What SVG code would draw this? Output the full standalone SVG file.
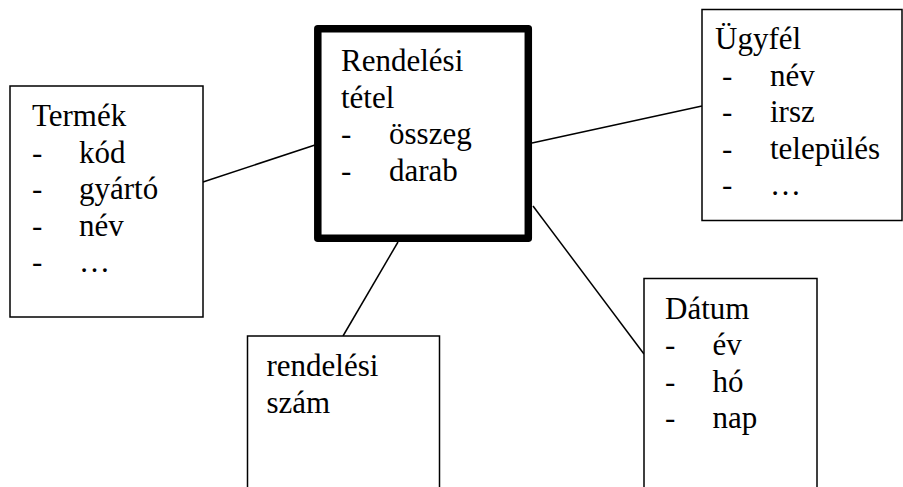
<svg xmlns="http://www.w3.org/2000/svg" width="903" height="487" viewBox="0 0 903 487" font-family="serif">
<style>
.box{fill:#fff;stroke:#000;stroke-width:1.5}
.main{fill:#fff;stroke:#000;stroke-width:7.5;stroke-linejoin:round}
.c line{stroke:#000;stroke-width:1.5}
</style>
<rect width="903" height="487" fill="#fff"/>
<g class="c" id="connectors">
<line x1="203" y1="182" x2="315" y2="145"/>
<line x1="532" y1="143" x2="702" y2="106"/>
<line x1="398" y1="242" x2="343" y2="336"/>
<line x1="533" y1="206" x2="644" y2="354"/>
</g>
<g id="termek">
<rect class="box" x="10" y="86" width="193" height="231"/>
<text font-family="serif" font-size="31" x="32" y="126">Termék</text>
<text font-family="serif" font-size="31" y="162.5"><tspan x="32">-</tspan><tspan x="79">kód</tspan></text>
<text font-family="serif" font-size="31" y="199"><tspan x="32">-</tspan><tspan x="79">gyártó</tspan></text>
<text font-family="serif" font-size="31" y="235.5"><tspan x="32">-</tspan><tspan x="79">név</tspan></text>
<text font-family="serif" font-size="31" y="272"><tspan x="32">-</tspan><tspan x="79">…</tspan></text>
</g>
<g id="rendelesi-tetel">
<rect class="main" x="317.8" y="28.8" width="210.5" height="209.5"/>
<text font-family="serif" font-size="31" x="341" y="71">Rendelési</text>
<text font-family="serif" font-size="31" x="341" y="107.5">tétel</text>
<text font-family="serif" font-size="31" y="144"><tspan x="341">-</tspan><tspan x="389">összeg</tspan></text>
<text font-family="serif" font-size="31" y="180.5"><tspan x="341">-</tspan><tspan x="389">darab</tspan></text>
</g>
<g id="ugyfel">
<rect class="box" x="702" y="9.5" width="200" height="211"/>
<text font-family="serif" font-size="31" x="715" y="49">Ügyfél</text>
<text font-family="serif" font-size="31" y="85.5"><tspan x="722">-</tspan><tspan x="770">név</tspan></text>
<text font-family="serif" font-size="31" y="122"><tspan x="722">-</tspan><tspan x="770">irsz</tspan></text>
<text font-family="serif" font-size="31" y="158.5"><tspan x="722">-</tspan><tspan x="770">település</tspan></text>
<text font-family="serif" font-size="31" y="195"><tspan x="722">-</tspan><tspan x="770">…</tspan></text>
</g>
<g id="rendelesi-szam">
<rect class="box" x="247.5" y="336" width="192" height="160"/>
<text font-family="serif" font-size="31" x="266.5" y="376">rendelési</text>
<text font-family="serif" font-size="31" x="266.5" y="412.5">szám</text>
</g>
<g id="datum">
<rect class="box" x="644" y="278.5" width="173" height="220"/>
<text font-family="serif" font-size="31" x="665" y="318.5">Dátum</text>
<text font-family="serif" font-size="31" y="355"><tspan x="665">-</tspan><tspan x="712.5">év</tspan></text>
<text font-family="serif" font-size="31" y="391.5"><tspan x="665">-</tspan><tspan x="712.5">hó</tspan></text>
<text font-family="serif" font-size="31" y="428"><tspan x="665">-</tspan><tspan x="712.5">nap</tspan></text>
</g>
</svg>
